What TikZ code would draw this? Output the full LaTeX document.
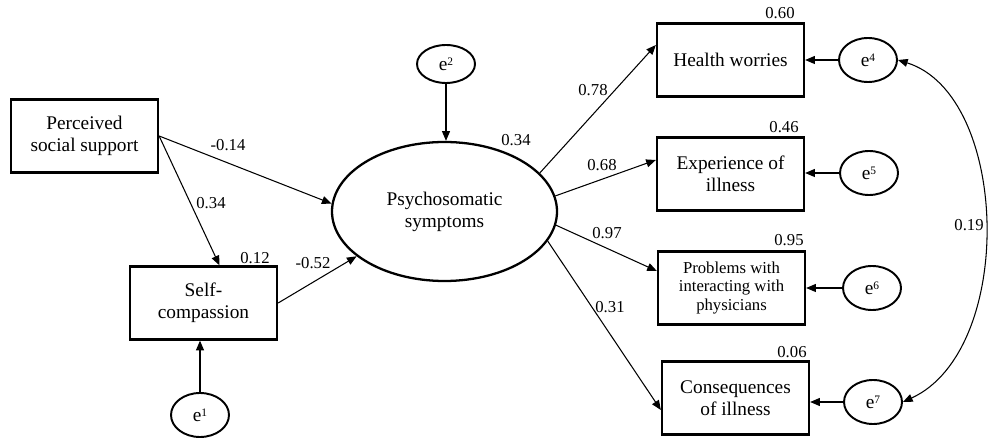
\documentclass[tikz,border=0pt]{standalone}
\usepackage{fontspec}
\setmainfont{Liberation Serif}
\usetikzlibrary{arrows.meta,calc,shapes.geometric}
\newcommand{\errlab}[1]{e\raisebox{0.55ex}{\fontsize{6.5}{7}\selectfont #1}}
\begin{document}
\begin{tikzpicture}[x=0.2mm,y=-0.2mm,
 box/.style={draw,line width=1.3pt,minimum width=29.4mm,minimum height=14.6mm,inner sep=0pt,align=center,font=\fontsize{11}{12.5}\selectfont},
 err/.style={draw,ellipse,line width=1.1pt,minimum width=11.6mm,minimum height=8.8mm,inner sep=0pt,font=\fontsize{11}{12}\selectfont},
 lat/.style={draw,ellipse,line width=1.3pt,minimum width=45mm,minimum height=27.8mm,inner sep=0pt,align=center,font=\fontsize{11}{12.5}\selectfont},
 coef/.style={inner sep=0pt,font=\fontsize{9.5}{10}\selectfont},
 arr/.style={line width=0.6pt,-{Triangle[length=5.5pt,width=4.5pt]}},
 covarr/.style={line width=0.6pt,{Triangle[length=5.5pt,width=4.5pt]}-{Triangle[length=5.5pt,width=4.5pt]}},
]
\useasboundingbox (0,0) rectangle (1000,447);
% nodes
\node[box] (psp) at (84.5,136) {Perceived\\social support};
\node[box] (sc) at (203.5,303) {Self-\\compassion};
\node[err] (e1) at (200,415) {\errlab{1}};
\node[lat] (psy) at (444.5,211.5) {Psychosomatic\\symptoms};
\node[err,minimum height=7.6mm] (e2) at (446,64) {\errlab{2}};
\node[box] (hw) at (730.5,60) {Health worries};
\node[box] (ex) at (730.5,174) {Experience of\\illness};
\node[box,font=\fontsize{9.5}{10.8}\selectfont] (pr) at (731.5,288) {Problems with\\interacting with\\physicians};
\node[box] (co) at (735.5,398) {Consequences\\of illness};
\node[err] (e4) at (868,60) {\errlab{4}};
\node[err] (e5) at (869,173) {\errlab{5}};
\node[err] (e6) at (872,288) {\errlab{6}};
\node[err] (e7) at (873,402) {\errlab{7}};
% connectors
\draw[arr] (e2.south) -- (e2.south |- psy.north);
\draw[arr] (psp.east) -- (psy.176);
\draw[arr] (psp.east) -- ($(sc.north)+(16,0)$);
\draw[arr] (sc.east) -- (psy.207);
\draw[arr] (e1.north) -- (e1.north |- sc.south);
\draw[arr] (psy.22) -- ($(hw.west)+(0,-15)$);
\draw[arr] (psy.8) -- ($(ex.west)+(0,-14)$);
\draw[arr] (psy.-7) -- ($(pr.west)+(0,-17)$);
\draw[arr] (psy.-16) -- ($(co.west)+(0,12)$);
\draw[arr] (e4.west) -- (e4.west -| hw.east);
\draw[arr] (e5.west) -- (e5.west -| ex.east);
\draw[arr] (e6.west) -- (e6.west -| pr.east);
\draw[arr] (e7.west) -- (e7.west -| co.east);
\draw[covarr] (e4.east) .. controls (1010,95) and (1016,350) .. (e7.east);
% coefficients
\node[coef] (c1) at (228,145) {-0.14};
\node[coef] (c2) at (211,203) {0.34};
\node[coef] (c3) at (255,258) {0.12};
\node[coef] (c4) at (313,263) {-0.52};
\node[coef] (c5) at (516,140) {0.34};
\node[coef] (c6) at (593,90) {0.78};
\node[coef] (c7) at (602,165) {0.68};
\node[coef] (c8) at (607,233) {0.97};
\node[coef] (c9) at (610,307) {0.31};
\node[coef] (c10) at (780,13) {0.60};
\node[coef] (c11) at (784,127) {0.46};
\node[coef] (c12) at (789,240) {0.95};
\node[coef] (c13) at (792,352) {0.06};
\node[coef] (c14) at (969,225) {0.19};
\end{tikzpicture}
\end{document}
